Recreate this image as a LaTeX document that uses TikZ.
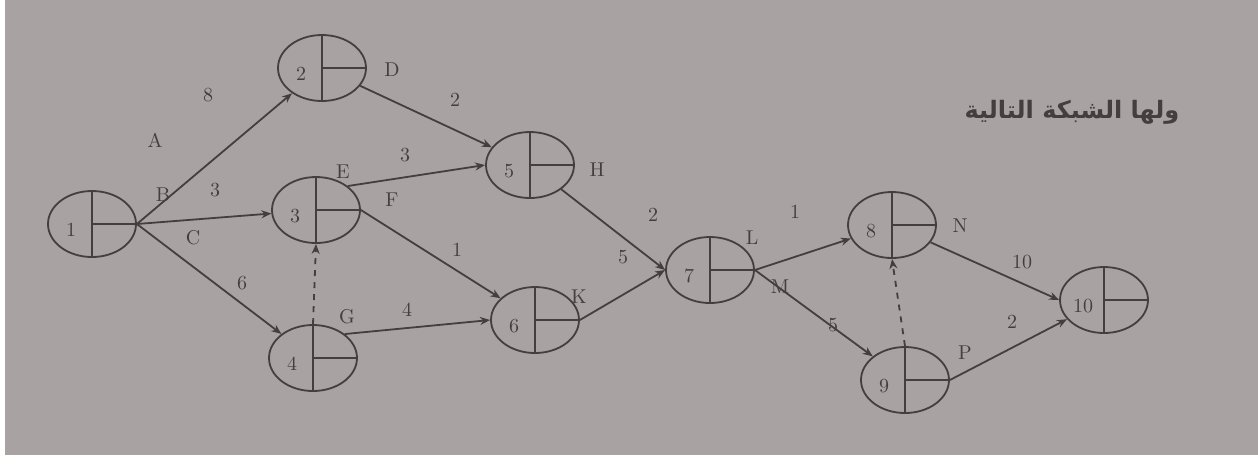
\documentclass[tikz,border=0pt]{standalone}
\usepackage{fontspec}
\newfontfamily\arabicfont[Script=Arabic]{DejaVu Sans}
\TeXXeTstate=1
\usetikzlibrary{arrows.meta,shapes.geometric}
\definecolor{paper}{RGB}{168,163,162}
\definecolor{ink}{RGB}{68,63,63}

\begin{document}
\begin{tikzpicture}[x=0.5pt,y=-0.5pt,
  event/.style={draw=ink,line width=0.9pt,ellipse,minimum width=44pt,minimum height=33pt,inner sep=0pt},
  act/.style={draw=ink,line width=0.9pt,-{Stealth[length=5pt,width=4pt]}},
  dummy/.style={act,dashed},
  lbl/.style={text=ink,font=\normalsize}]
\useasboundingbox (0,0) rectangle (1258,473);
\fill[white] (0,0) rectangle (1258,473);
\fill[paper] (5,0) rectangle (1258,455);
% events
\foreach \n/\x/\y in {1/92/224,2/322/68,3/316/210,4/313/358,5/530/165,6/535/320,7/710/270,8/892/225,9/905/380,10/1104/300}{
  \node[event] (n\n) at (\x,\y) {};
  \draw[ink,line width=0.9pt] (n\n.north) -- (n\n.south);
  \draw[ink,line width=0.6pt] (n\n.center) -- (n\n.east);
  \node[lbl] (num\n) at (\x-21,\y+6) {\n};
}
% activities
\draw[act] (n1.east) -- (n2);
\draw[act] (n1.east) -- (n3);
\draw[act] (n1.east) -- (n4);
\draw[act] (n2) -- (n5);
\draw[act] (n3.north east) -- (n5.west);
\draw[act] (n3.east) -- (n6);
\draw[act] (n4.north east) -- (n6.west);
\draw[dummy] (n4.north) -- (n3.south);
\draw[act] (n5) -- (n7.west);
\draw[act] (n6.east) -- (n7.west);
\draw[act] (n7.east) -- (n8);
\draw[act] (n7.east) -- (n9);
\draw[dummy] (n9.north) -- (n8.south);
\draw[act] (n8) -- (n10.west);
\draw[act] (n9.east) -- (n10);
% labels
\node[lbl] (lA) at (155,140) {A};  \node[lbl] (dA) at (208,95) {8};
\node[lbl] (lB) at (163,195) {B};  \node[lbl] (dB) at (215,190) {3};
\node[lbl] (lC) at (193,238) {C};  \node[lbl] (dC) at (242,283) {6};
\node[lbl] (lD) at (392,70) {D};   \node[lbl] (dD) at (455,100) {2};
\node[lbl] (lE) at (343,172) {E};  \node[lbl] (dE) at (405,155) {3};
\node[lbl] (lF) at (392,200) {F};  \node[lbl] (dF) at (457,250) {1};
\node[lbl] (lG) at (347,317) {G};  \node[lbl] (dG) at (407,310) {4};
\node[lbl] (lH) at (597,170) {H};  \node[lbl] (dH) at (653,215) {2};
\node[lbl] (lK) at (579,297) {K};  \node[lbl] (dK) at (623,257) {5};
\node[lbl] (lL) at (752,238) {L};  \node[lbl] (dL) at (795,212) {1};
\node[lbl] (lM) at (780,287) {M};  \node[lbl] (dM) at (833,325) {5};
\node[lbl] (lN) at (960,226) {N};  \node[lbl] (dN) at (1022,262) {10};
\node[lbl] (lP) at (965,353) {P};  \node[lbl] (dP) at (1012,322) {2};
\node[text=ink,font=\arabicfont\bfseries\large] (title) at (1072,112) {\beginR ولها الشبكة التالية\endR};
\end{tikzpicture}
\end{document}
